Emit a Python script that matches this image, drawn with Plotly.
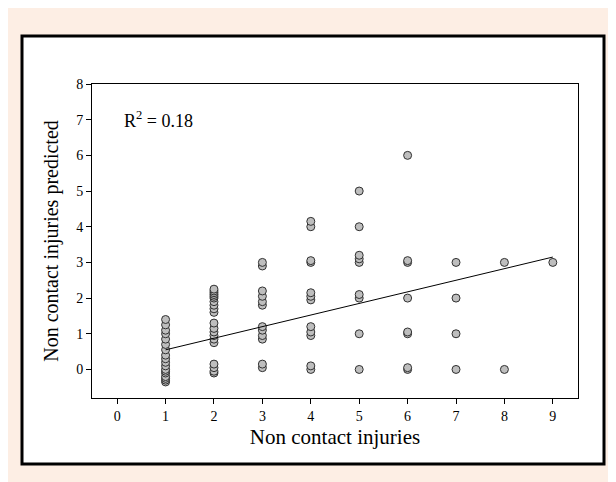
import plotly.graph_objects as go

x1 = [1] * 18
y1 = [-0.35, -0.3, -0.25, -0.2, -0.1, -0.05, 0.0, 0.1, 0.2, 0.3, 0.4,
      0.55, 0.7, 0.85, 1.0, 1.1, 1.25, 1.4]
x2 = [2] * 20
y2 = [-0.1, -0.05, 0.05, 0.15, 0.75, 0.85, 0.95, 1.05, 1.15, 1.3,
      1.6, 1.7, 1.8, 1.9, 2.0, 2.05, 2.1, 2.15, 2.2, 2.25]
x3 = [3] * 12
y3 = [0.05, 0.15, 0.85, 0.95, 1.1, 1.2, 1.8, 1.9, 2.05, 2.2, 2.9, 3.0]
x4 = [4] * 12
y4 = [0.0, 0.1, 0.95, 1.05, 1.2, 1.95, 2.05, 2.15, 3.0, 3.05, 4.0, 4.15]
x5 = [5] * 9
y5 = [0.0, 1.0, 2.0, 2.1, 3.0, 3.1, 3.2, 4.0, 5.0]
x6 = [6] * 8
y6 = [0.0, 0.05, 1.0, 1.05, 2.0, 3.0, 3.05, 6.0]
x7 = [7] * 4
y7 = [0.0, 1.0, 2.0, 3.0]
x8 = [8] * 2
y8 = [0.0, 3.0]
x9 = [9]
y9 = [3.0]

xs = x1 + x2 + x3 + x4 + x5 + x6 + x7 + x8 + x9
ys = y1 + y2 + y3 + y4 + y5 + y6 + y7 + y8 + y9

fit_x = [1, 9]
fit_y = [0.55, 3.15]

# page pixel -> paper coords (figure sits 8px in from the page corner)
def px(v):
    return (v - 92) / 486

def py(v):
    return (398 - v) / 314

fig = go.Figure()
fig.add_trace(go.Scatter(x=xs, y=ys, mode="markers",
                         marker=dict(size=8, color="#bebebe",
                                     line=dict(color="#303030", width=1))))
fig.add_trace(go.Scatter(x=fit_x, y=fit_y, mode="lines",
                         line=dict(color="black", width=1)))

fig.add_shape(type="rect", xref="paper", yref="paper", layer="below",
              x0=px(22), x1=px(604), y0=py(464), y1=py(36),
              fillcolor="white", line=dict(color="black", width=3))

fig.add_annotation(x=0.1, y=7, text="R<sup>2</sup> = 0.18", showarrow=False,
                   xanchor="left", font=dict(size=18))

ax = dict(showline=True, linecolor="black", linewidth=1, mirror=True,
          ticks="outside", ticklen=5, tickcolor="black", showgrid=False,
          zeroline=False, tickfont=dict(size=14))
fig.update_xaxes(range=[-0.52, 9.52], dtick=1,
                 title=dict(text="Non contact injuries", font=dict(size=21), standoff=6), **ax)
fig.update_yaxes(range=[-0.8, 8], dtick=1,
                 title=dict(text="Non contact injuries predicted", font=dict(size=20), standoff=12), **ax)

fig.update_layout(width=616, height=482, showlegend=False,
                  margin=dict(l=84, r=46, t=76, b=92),
                  paper_bgcolor="#fdeee4", plot_bgcolor="white",
                  font=dict(family="Liberation Serif", color="black"))
fig.write_html("out.html")
